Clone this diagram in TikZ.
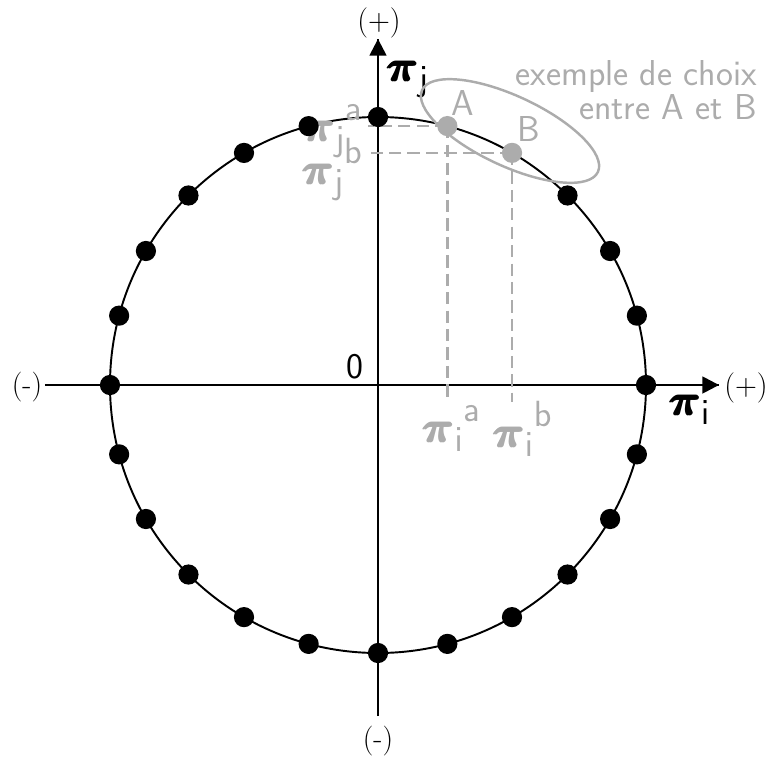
\documentclass[tikz,border=0pt]{standalone}
\usepackage{amsmath}
\usepackage{bm}
\usepackage{tikz}
\usetikzlibrary{arrows.meta}
\renewcommand{\familydefault}{\sfdefault}
\definecolor{choixgrey}{RGB}{172,172,172}
\newcommand{\bpi}{\pmb{\boldsymbol{\pi}}}
\newcommand{\hisup}[1]{\raisebox{3pt}{$\scriptstyle\mathsf{#1}$}}

\begin{document}
\begin{tikzpicture}[
        scale=0.02,
        >={Triangle[length=9.5pt,width=9.5pt]},
        every node/.style={font=\fontsize{20.5}{17}\selectfont},
        sign/.style={font=\fontsize{17}{17}\selectfont},
        axis/.style={line width=1.4pt},
        pt/.style={circle, fill=black, inner sep=0pt, minimum size=11.5pt},
        ptchoice/.style={pt, fill=choixgrey},
        proj/.style={draw=choixgrey, line width=1.4pt, dash pattern=on 7pt off 3.5pt},
        pilab/.style={font=\fontsize{28}{30}\selectfont, inner sep=0pt},
        greylab/.style={pilab, text=choixgrey}
    ]
    \useasboundingbox (-378,-375) rectangle (390,385);

    % circle of choices
    \draw[line width=1.1pt] (0,0) circle (268);

    % axes
    \coordinate (xl) at (-333,0);
    \coordinate (xr) at (341,0);
    \coordinate (yb) at (0,-331);
    \coordinate (yt) at (0,346);
    \draw[axis] (xl) -- (xr);
    \draw[axis] (yb) -- (yt);
    \draw[axis, ->] (0,0) -- (xr);
    \draw[axis, ->] (0,0) -- (yt);

    \node[sign] (xminus) at (-351,-2) {\rmfamily(-)};
    \node[sign] (xplus) at (368,-3) {$(+)$};
    \node[sign] (yminus) at (0,-356) {\rmfamily(-)};
    \node[sign] (yplus) at (1,362) {$(+)$};
    \node (orig) at (-23,18) {0};
    \node[pilab] (pii) at (312,-25) {$\bpi_{\mathsf{i}}$};
    \node[pilab] (pij) at (30,306) {$\bpi_{\mathsf{j}}$};

    % projections of A and B
    \coordinate (A) at (75:268);
    \coordinate (B) at (60:268);
    \coordinate (jl) at (-10,0);
    \coordinate (ib) at (0,-17);
    \draw[proj] (A) -- (A -| jl);
    \draw[proj] (B) -- (B -| jl);
    \draw[proj] (A) -- (A |- ib);
    \draw[proj] (B) -- (B |- ib);

    \node[greylab, anchor=east] (pija) at (-15,254) {${\bpi_{\mathsf{j}}}^{\hisup{a}}$};
    \node[greylab, anchor=east] (pijb) at (-15,216) {${\bpi_{\mathsf{j}}}^{\hisup{b}}$};
    \node[greylab] (piia) at (74,-44) {${\bpi_{\mathsf{i}}}^{\hisup{a}}$};
    \node[greylab] (piib) at (145,-44) {${\bpi_{\mathsf{i}}}^{\hisup{b}}$};

    % points
    \foreach \ang in {0,15,...,345} {
        \ifnum\ang=60\relax\else\ifnum\ang=75\relax\else
            \node[pt] (p\ang) at (\ang:268) {};
        \fi\fi
    }
    \node[ptchoice] (pA) at (A) {};
    \node[ptchoice] (pB) at (B) {};
    \node[text=choixgrey] (labA) at (85,282) {A};
    \node[text=choixgrey] (labB) at (151,256) {B};

    % choice between A and B
    \draw[choixgrey, line width=1.4pt, rotate around={-25:(132,254)}] (132,254) ellipse (97 and 35);
    \node[text=choixgrey, align=right, anchor=north east, inner sep=0pt] (note) at (379,325)
        {exemple de choix\\entre A et B};

\end{tikzpicture}
\end{document}
